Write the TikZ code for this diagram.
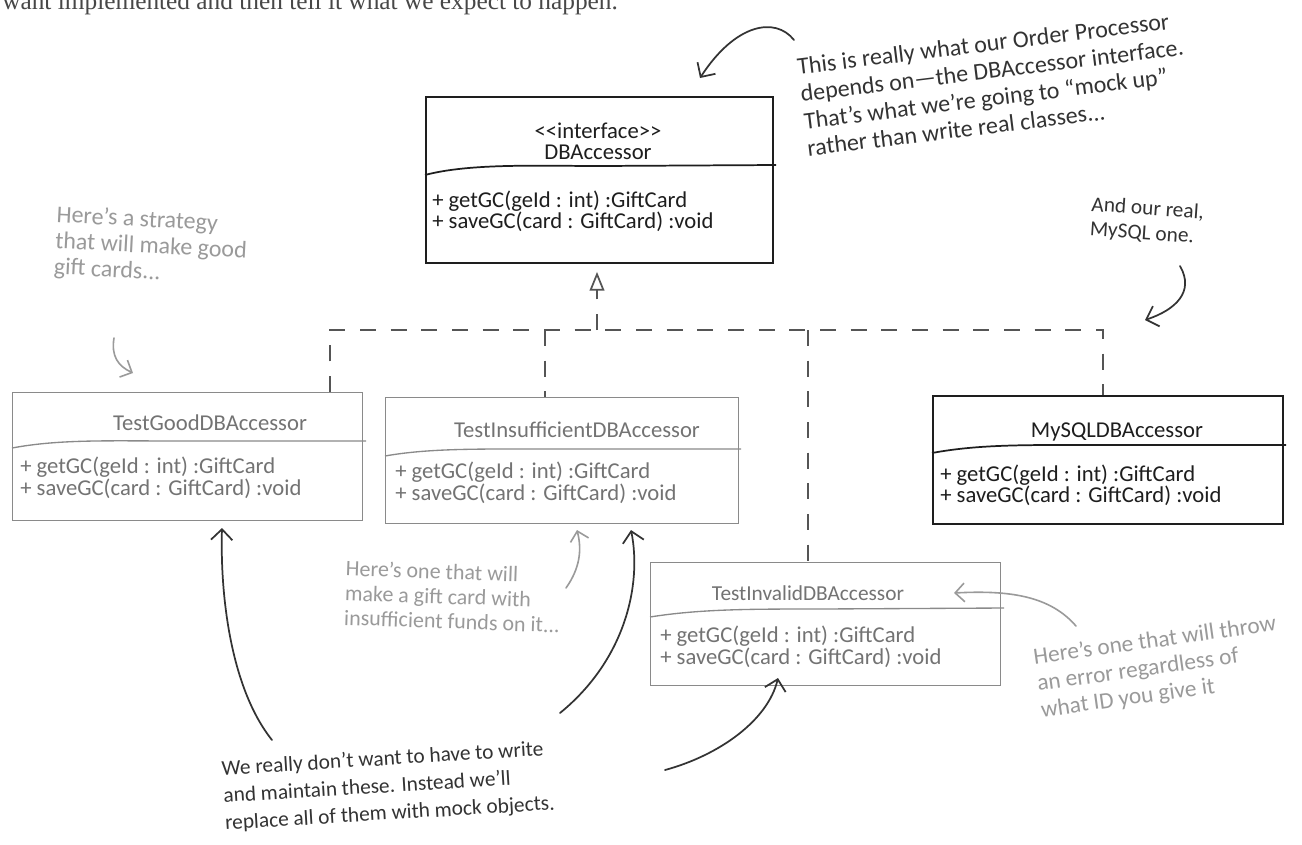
\documentclass[tikz,border=0pt]{standalone}
\usepackage{fontspec}
\setmainfont{Carlito}
\newfontfamily\headserif{Liberation Serif}
\usetikzlibrary{arrows.meta}
\definecolor{ink}{HTML}{1E1E1E}
\definecolor{softline}{HTML}{8A8A8A}
\definecolor{softtext}{HTML}{737373}
\definecolor{notegray}{HTML}{9A9A9A}
\definecolor{dashgray}{HTML}{555555}
\definecolor{noteink}{HTML}{333333}
\begin{document}
\begin{tikzpicture}[x=0.75pt,y=-0.75pt,
  darkbox/.style={draw=ink, line width=1.4pt, inner sep=0pt},
  softbox/.style={draw=softline, line width=1.1pt, inner sep=0pt},
  darktitle/.style={text=ink, font=\fontsize{17}{16}\selectfont, inner sep=0pt, align=center},
  softtitle/.style={text=softtext, font=\fontsize{17}{16}\selectfont, inner sep=0pt, align=center},
  darkops/.style={text=ink, font=\fontsize{17}{16}\selectfont, inner sep=0pt, align=left},
  softops/.style={text=softtext, font=\fontsize{17}{15}\selectfont, inner sep=0pt, align=left},
  darkdiv/.style={draw=ink, line width=1.3pt},
  softdiv/.style={draw=softline, line width=1.0pt},
  umldash/.style={draw=dashgray, line width=1.3pt, dash pattern=on 12pt off 11pt},
  darknote/.style={text=noteink, inner sep=0pt, align=left},
  lightnote/.style={text=notegray, inner sep=0pt, align=left},
  notearrow/.style={draw=noteink, line width=1.3pt, line cap=round, -{Straight Barb[length=8pt,width=16pt]}},
  lightarrow/.style={draw=notegray, line width=1.2pt, line cap=round, -{Straight Barb[length=7pt,width=14pt]}}
]
\fill[white] (0,0) rectangle (1302,844);
\useasboundingbox (0,0) rectangle (1302,844);
\clip (0,0) rectangle (1302,844);

% cut-off line of running text at the top
\node[anchor=base west, inner sep=0pt, font=\headserif\fontsize{19}{20}\selectfont, text=black!72] (head) at (2,9) {want implemented and then tell it what we expect to happen.};

% interface
\node[darkbox, anchor=north west, minimum width=347*0.75pt, minimum height=166*0.75pt] (iface) at (425,96) {};
\node[darktitle] (iface-name) at (598,141) {<\kern0pt<interface>\kern0pt>\\DBAccessor};
\draw[darkdiv] (425,175) .. controls (470,163) and (540,166) .. (600,166) -- (776,165);
\node[darkops, anchor=west] (iface-ops) at (432,211) {+ getGC(geId : int) :GiftCard\\+ saveGC(card : GiftCard) :void};

% TestGood
\node[softbox, anchor=north west, minimum width=350*0.75pt, minimum height=128*0.75pt] (good) at (12,392) {};
\node[softtitle] (good-name) at (210,423) {TestGoodDBAccessor};
\draw[softdiv] (12,448) .. controls (60,439) and (110,441) .. (180,441) -- (366,441);
\node[softops, anchor=west] (good-ops) at (20,478) {+ getGC(geId : int) :GiftCard\\+ saveGC(card : GiftCard) :void};

% TestInsufficient
\node[softbox, anchor=north west, minimum width=353*0.75pt, minimum height=126*0.75pt] (insuf) at (385,397) {};
\node[softtitle] (insuf-name) at (577,430) {TestInsufficientDBAccessor};
\draw[softdiv] (385,456) .. controls (430,448) and (480,449) .. (560,449) -- (741,449);
\node[softops, anchor=west] (insuf-ops) at (395,483) {+ getGC(geId : int) :GiftCard\\+ saveGC(card : GiftCard) :void};

% MySQL
\node[darkbox, anchor=north west, minimum width=350*0.75pt, minimum height=128*0.75pt] (mysql) at (932,395) {};
\node[darktitle] (mysql-name) at (1117,432) {MySQLDBAccessor};
\draw[darkdiv] (932,453) .. controls (980,444) and (1030,445) .. (1100,445) -- (1286,445);
\node[darkops, anchor=west] (mysql-ops) at (940,485) {+ getGC(geId : int) :GiftCard\\+ saveGC(card : GiftCard) :void};

% TestInvalid
\node[softbox, anchor=north west, minimum width=350*0.75pt, minimum height=123*0.75pt] (invalid) at (650,562) {};
\node[softtitle, font=\fontsize{16}{16}\selectfont] (invalid-name) at (808,593) {TestInvalidDBAccessor};
\draw[softdiv] (650,617) .. controls (700,609) and (750,609) .. (820,609) -- (1004,608);
\node[softops, anchor=west] (invalid-ops) at (660,647) {+ getGC(geId : int) :GiftCard\\+ saveGC(card : GiftCard) :void};

% realization lines
\coordinate (jL) at (330,330);
\coordinate (jI) at (545,330);
\coordinate (jM) at (597,330);
\coordinate (jV) at (808,330);
\coordinate (jR) at (1103,330);
\draw[umldash] (jL |- good.north) -- (jL) -- (jR) -- (jR |- mysql.north);
\draw[umldash] (jI) -- (jI |- insuf.north);
\draw[umldash] (jV) -- (jV |- invalid.north);
\draw[umldash, -{Triangle[open, length=14pt, width=11pt]}, shorten >=6pt] (jM) -- (jM |- iface.south);

% notes
\node[darknote, font=\fontsize{18}{20.5}\selectfont, rotate=7, anchor=north west] (why) at (796,58) {This is really what our Order Processor\\depends on---the DBAccessor interface.\\That's what we're going to ``mock up''\\rather than write real classes...};
\coordinate (why-from) at (794,40);
\coordinate (why-to) at (700,78);
\draw[notearrow] (why-from) .. controls (775,16) and (735,24) .. (why-to);

\node[lightnote, font=\fontsize{18}{19.5}\selectfont, rotate=-3, anchor=north west] (strat) at (57,205) {Here's a strategy\\that will make good\\gift cards...};
\coordinate (strat-from) at (114,338);
\coordinate (strat-to) at (133,373);
\draw[lightarrow] (strat-from) .. controls (111,356) and (118,366) .. (strat-to);

\node[darknote, font=\fontsize{16}{18.5}\selectfont, rotate=-4, anchor=north west] (real) at (1092,196) {And our real,\\MySQL one.};
\coordinate (real-from) at (1180,266);
\coordinate (real-to) at (1145,320);
\draw[notearrow] (real-from) .. controls (1195,292) and (1175,310) .. (real-to);

\node[lightnote, font=\fontsize{16.5}{18.5}\selectfont, rotate=-2, anchor=north west] (insufnote) at (346,560) {Here's one that will\\make a gift card with\\insufficient funds on it...};
\coordinate (insufnote-from) at (566,588);
\coordinate (insufnote-to) at (577,530);
\draw[lightarrow] (insufnote-from) .. controls (580,568) and (582,550) .. (insufnote-to);

\node[lightnote, font=\fontsize{17.5}{20}\selectfont, rotate=8, anchor=north west] (throw) at (1032,648) {Here's one that will throw\\an error regardless of\\what ID you give it};
\coordinate (throw-from) at (1076,626);
\coordinate (throw-to) at (954,593);
\draw[lightarrow] (throw-from) .. controls (1050,596) and (1010,590) .. (throw-to);

\node[darknote, font=\fontsize{16}{20.5}\selectfont, rotate=3.5, anchor=north west] (mock) at (221,760) {We really don't want to have to write\\and maintain these. Instead we'll\\replace all of them with mock objects.};
\coordinate (mock-a) at (272,740);
\coordinate (mock-b) at (560,713);
\coordinate (mock-c) at (665,770);
\draw[notearrow] (mock-a) .. controls (232,690) and (220,600) .. (222,528) coordinate (good-tip);
\draw[notearrow] (mock-b) .. controls (625,660) and (642,585) .. (631,530) coordinate (insuf-tip);
\draw[notearrow] (mock-c) .. controls (720,755) and (768,720) .. (778,678) coordinate (invalid-tip);
\end{tikzpicture}
\end{document}
